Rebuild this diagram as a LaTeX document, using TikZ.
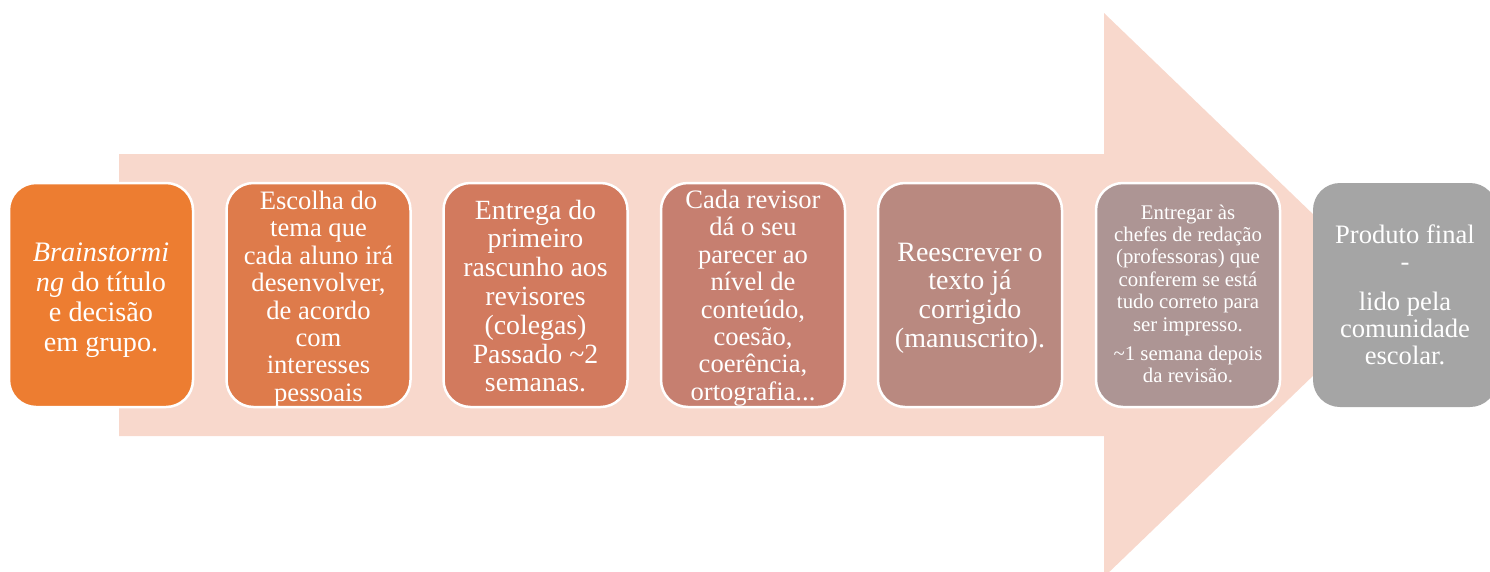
\documentclass[tikz,border=0pt]{standalone}
\usepackage{fontspec}
\setmainfont{Liberation Serif}
\definecolor{arrowfill}{HTML}{F8D8CC}
\definecolor{cA}{HTML}{ED7D31}
\definecolor{cB}{HTML}{DE7B4B}
\definecolor{cC}{HTML}{D27A5E}
\definecolor{cD}{HTML}{C67F70}
\definecolor{cE}{HTML}{B98980}
\definecolor{cF}{HTML}{AD9594}
\definecolor{cG}{HTML}{A5A5A5}
\tikzset{
  stepbox/.style={rectangle, rounded corners=27pt, minimum width=184pt, minimum height=224pt,
    draw=white, line width=2.5pt},
  boxtext/.style={text=white, align=center, inner sep=0pt},
  fsA/.style={font=\fontsize{28.2}{30}\selectfont},
  fsB/.style={font=\fontsize{26.6}{27.4}\selectfont},
  fsC/.style={font=\fontsize{27.8}{28.8}\selectfont},
  fsE/.style={font=\fontsize{28}{28.7}\selectfont},
  fsF/.style={font=\fontsize{20.8}{22.4}\selectfont},
}
\begin{document}
\begin{tikzpicture}[x=1pt,y=-1pt]
\useasboundingbox (0,0) rectangle (1490,571);
\clip (0,0) rectangle (1490,571);
\fill[arrowfill] (119,154) -- (1104,154) -- (1104,13) -- (1397,295) -- (1104,577) -- (1104,436) -- (119,436) -- cycle;
\node[stepbox, fill=cA] (b1) at (101,295) {};
\node[stepbox, fill=cB] (b2) at (318.5,295) {};
\node[stepbox, fill=cC] (b3) at (535.5,295) {};
\node[stepbox, fill=cD] (b4) at (753,295) {};
\node[stepbox, fill=cE] (b5) at (970,295) {};
\node[stepbox, fill=cF] (b6) at (1188,295) {};
\node[stepbox, fill=cG, draw=none] (b7) at (1405,295) {};
\node[boxtext, fsA] (t1) at ([yshift=-5pt]b1.center) {\textit{Brainstormi}\\\textit{ng} do título\\e decisão\\em grupo.};
\node[boxtext, fsB] (t2) at ([yshift=-4pt]b2.center) {Escolha do\\tema que\\cada aluno irá\\desenvolver,\\de acordo\\com\\interesses\\pessoais};
\node[boxtext, fsC] (t3) at ([yshift=-1pt]b3.center) {Entrega do\\primeiro\\rascunho aos\\revisores\\(colegas)\\Passado \textasciitilde2\\semanas.};
\node[boxtext, fsB] (t4) at ([yshift=-3pt]b4.center) {Cada revisor\\dá o seu\\parecer ao\\nível de\\conteúdo,\\coesão,\\coerência,\\ortografia...};
\node[boxtext, fsE] (t5) at ([yshift=-3pt]b5.center) {Reescrever o\\texto já\\corrigido\\(manuscrito).};
\node[boxtext, fsF] (t6) at ([yshift=1pt]b6.center) {Entregar às\\chefes de redação\\(professoras) que\\conferem se está\\tudo correto para\\ser impresso.\\[7pt]\textasciitilde1 semana depois\\da revisão.};
\node[boxtext, fsB] (t7) at (b7.center) {Produto final\\-\\[12pt]lido pela\\comunidade\\escolar.};
\end{tikzpicture}
\end{document}
